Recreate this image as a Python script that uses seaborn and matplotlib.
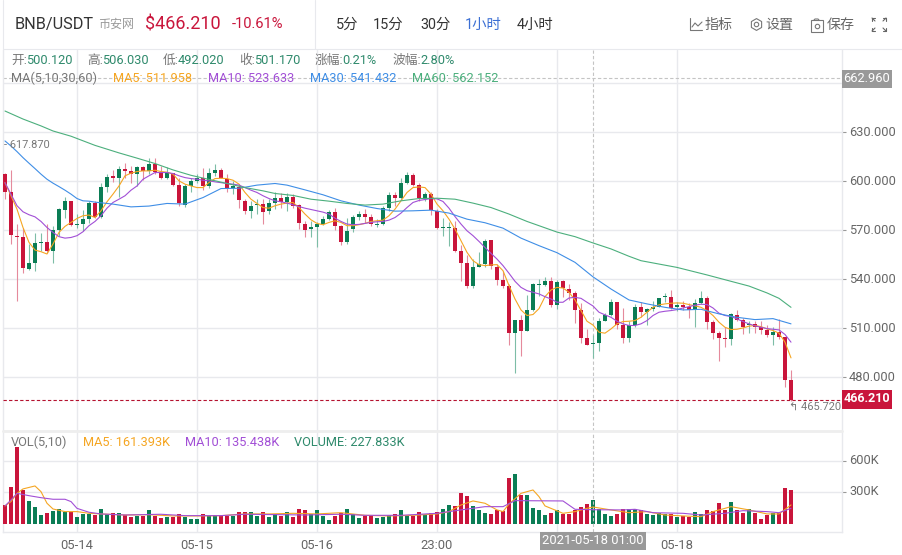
import matplotlib
matplotlib.use('Agg')
import matplotlib.pyplot as plt
from matplotlib.patches import Rectangle
from matplotlib.transforms import ScaledTranslation
import pandas as pd
import seaborn as sns

# candles, one per hour
opens = [604.2, 593, 566.6, 565.5, 546.4, 550.1, 562.3, 562.9, 557.4, 570.2,
         582.4, 587.5, 573.3, 573.9, 576.9, 586.7, 578.1, 596.4, 602.7, 601.9,
         607.4, 606.2, 604.6, 608.6, 606.2, 610.7, 605.8, 602.1, 605.2, 597.7,
         585.5, 597, 600.1, 601.7, 597, 605, 606.8, 601.1, 595.6, 596.4,
         587.9, 581.4, 585.1, 585.9, 581.4, 586.7, 589.5, 586.9, 590.3, 585.3,
         573.7, 570.4, 572, 573.7, 576.9, 581, 572.7, 562.9, 570.6, 578.1,
         579.8, 578.1, 573.1, 573.7, 583.4, 591.6, 589.5, 598.9, 603.8, 597.5,
         589.5, 592, 581.8, 571, 571, 571.2, 557.4, 549.7, 536.1, 547.6,
         549.3, 563.9, 547.6, 539.5, 536.1, 507, 515.1, 508.6, 521.2, 536.3,
         536.7, 539.1, 524.5, 538.7, 534, 531.4, 521.4, 504.1, 500.12, 500.9,
         514.7, 518.4, 525.9, 511.7, 504.1, 511.7, 523.2, 519.8, 521.8, 523.2,
         528.9, 529.3, 523.2, 524.5, 523.2, 521.2, 525.7, 528.5, 513.7, 507,
         503.7, 503.3, 518.4, 515.1, 511.7, 512.7, 511, 509.2, 505.8, 507.6, 504.9, 478.1]
highs = [605.2, 606.8, 573.7, 571.2, 561.5, 568, 568.4, 573.7, 572.7, 583.8,
         590.3, 587.9, 579.8, 582.2, 587.9, 587.9, 598.5, 604.2, 606.6, 609.3,
         611.1, 609.3, 609.3, 609.3, 613.9, 613.9, 609.3, 608.6, 605.2, 602.1,
         598.1, 601.7, 604.2, 607.8, 607.8, 610.7, 607.8, 604.2, 600.1, 598.1,
         588.9, 587.9, 588.9, 588.9, 588.9, 593, 592.4, 592.4, 592, 585.9,
         575.7, 575.3, 574.7, 578.6, 582.2, 583.4, 573.3, 577.3, 579.4, 581.4,
         582.8, 579.8, 576.7, 584.9, 593, 593, 601.7, 605.4, 604.8, 599.1,
         593.6, 593, 582.8, 577.7, 574.7, 575.3, 561.1, 555, 552.3, 556.8,
         564.5, 563.9, 549.3, 545.2, 537.1, 515.1, 518.4, 530.6, 537.5, 540.1,
         541.1, 541.5, 539.5, 539.5, 537.1, 532.6, 525.3, 509.6, 506.03, 516.3,
         519.2, 527.9, 525.9, 522.4, 514.7, 524.9, 525.9, 522.4, 526.5, 528.5,
         531.4, 533.4, 525.9, 526.9, 525.3, 527.9, 533, 530, 515.1, 508.6,
         510.6, 519.2, 521.2, 516.3, 514.7, 514.3, 514.3, 511.7, 511, 515.7, 504.9, 484.2]
lows = [588.9, 561.5, 526.5, 543.6, 545.6, 545.2, 557, 555.8, 549.7, 566.6,
        577.7, 572.7, 571.2, 569.6, 574.1, 577.3, 577.3, 593, 599.7, 590.3,
        602.1, 599.1, 597, 600.5, 604.6, 604.2, 601.5, 601.5, 597, 584.9,
        584.2, 593.6, 598.5, 594.4, 595.6, 603.2, 601.7, 593.6, 592, 583.4,
        579.8, 577.3, 579.8, 573.7, 579.8, 582.8, 583.8, 581.4, 583.4, 570.6,
        565.9, 565.5, 559.4, 572.9, 576.1, 570.2, 561.1, 561.5, 568.6, 576.1,
        574.1, 572.7, 571.6, 572.9, 581.8, 584.9, 588.3, 598.1, 596.8, 587.9,
        587.9, 579.4, 570.6, 566.6, 560.5, 556.8, 538.7, 534.6, 534.6, 547.6,
        547.2, 546.2, 536.7, 534.6, 499.5, 482.6, 492.8, 508.6, 520.4, 530,
        536, 523.2, 521.8, 528.9, 527.3, 513.1, 500.9, 499.5, 492.02, 496.4,
        514.3, 517.8, 509.6, 500.9, 501.5, 511, 516.7, 511.7, 520.8, 522.8,
        525.9, 521.8, 520.4, 521.2, 516.3, 510.6, 524.9, 509.6, 503.5, 489.9,
        498.8, 499.5, 514.3, 506.2, 507, 507, 506.2, 504.9, 500, 503.5, 474, 465.72]
closes = [593, 567.2, 565.5, 546.6, 550.1, 562.3, 562.9, 557, 570.2, 582.6,
          587.5, 573.3, 573.9, 576.9, 586.7, 578.1, 596.4, 602.7, 602.1, 607.4,
          606.4, 604.6, 608.6, 606.2, 610.7, 605.8, 602.1, 605.4, 597.7, 586.3,
          597, 600.1, 601.7, 597, 605, 606.8, 602.1, 595.6, 597, 588.3,
          581.4, 584.9, 585.9, 581.2, 586.5, 589.5, 586.9, 590.3, 584.9, 574.1,
          570.2, 572, 573.7, 576.9, 581, 572.7, 562.9, 569.6, 578.1, 579.8,
          578.1, 573.7, 573.5, 583.4, 591.6, 589.5, 598.9, 603.8, 597.5, 589.5,
          592, 582.2, 571.2, 571.4, 571.4, 557.4, 549.7, 536.1, 547.6, 549.3,
          563.5, 548.3, 539.5, 536.1, 507, 515.1, 508.6, 521.2, 537.1, 536.7,
          539.1, 524.5, 538.5, 534.6, 531.4, 521.4, 504.1, 499.5, 501.17, 514.7,
          518.4, 525.9, 511.7, 504.1, 511.7, 523.2, 519.8, 521.8, 523.2, 528.5,
          529.3, 522.4, 524.5, 523.2, 521.2, 525.7, 528.5, 513.7, 507, 504.1,
          503.3, 518.8, 515.1, 510.6, 512.7, 510.6, 509.2, 505.6, 507.6, 504.5, 478.1, 466.21]
volumes = [180, 354, 733, 322, 221, 164, 85, 107, 123, 142,
           117, 117, 69, 95, 95, 85, 142, 95, 101, 101,
           85, 69, 76, 76, 133, 79, 60, 63, 69, 95,
           63, 50, 50, 95, 76, 85, 85, 76, 76, 114,
           114, 114, 76, 114, 69, 95, 79, 114, 69, 142,
           133, 95, 133, 76, 38, 76, 101, 142, 95, 57,
           76, 76, 57, 63, 85, 95, 133, 85, 79, 114,
           85, 107, 114, 142, 180, 171, 297, 265, 171, 133,
           101, 95, 133, 123, 439, 474, 275, 275, 152, 133,
           85, 101, 133, 95, 95, 133, 158, 189, 227, 139,
           95, 76, 95, 139, 139, 139, 133, 95, 85, 107,
           95, 95, 69, 76, 69, 114, 95, 133, 123, 199,
           133, 208, 133, 107, 139, 107, 50, 85, 101, 107, 341, 322]

# moving averages as they appear on the chart
ma5 = [599, 591, 582.8, 571.6, 562.5, 557.8, 556.8, 555.4, 561.5, 568.6,
       572.3, 574.7, 577.1, 578.8, 579.2, 577.7, 581.8, 587.3, 592, 597,
       603.2, 604.8, 605.8, 606.2, 606.2, 606.6, 605.8, 605.4, 604.2, 600.1,
       598.1, 597, 596, 596, 599.1, 601.5, 601.7, 601.5, 600.5, 598.1,
       593, 588.9, 586.3, 583.8, 583.4, 584.9, 585.9, 586.5, 586.9, 583.8,
       579.8, 576.3, 574.1, 573.3, 574.7, 575.7, 574.7, 572.7, 572.7, 573.3,
       574.1, 575.3, 575.7, 576.1, 578.8, 582.8, 587.9, 593, 596, 596.4,
       596, 592, 585.9, 581.8, 576.7, 570.6, 563.5, 556.4, 551.3, 548.9,
       548.3, 548.7, 548.9, 545.2, 536.1, 527.9, 521.2, 517.8, 518.4, 522,
       529.3, 533.4, 535, 534.6, 532, 527.3, 520.8, 514.3, 511.96, 507.6,
       507, 509.6, 512.7, 514.1, 514.3, 514.7, 516.7, 519.8, 522.8, 524.3,
       524.9, 525.3, 525.5, 525.3, 524.5, 523.7, 522.8, 520.8, 517.8, 513.7,
       510.6, 509.2, 509.4, 510.2, 511.3, 511.7, 511, 509.6, 508.6, 507, 501.5, 491.9]
ma10 = [599, 592, 584.9, 581.2, 579.4, 578.1, 575.3, 571.6, 568.6, 566,
        565.1, 565.5, 566.6, 569, 572.7, 575.3, 578.8, 583.4, 586.9, 588.9,
        591, 594.4, 597, 601.1, 603.2, 605.2, 605.2, 605.2, 604.6, 603.2,
        602.1, 601.5, 601.1, 600.5, 600.1, 599.5, 599, 598.5, 598.1, 597.5,
        596, 594.4, 593, 591, 589.3, 587.9, 587.3, 586.5, 585.5, 584.4,
        583.4, 582.6, 581.8, 581, 579.8, 577.3, 575.3, 573.7, 573.3, 573.5,
        574.1, 574.7, 575.1, 575.3, 576.1, 577.7, 580.4, 583.8, 586.9, 588.1,
        588.7, 589.3, 589.1, 587.5, 583.4, 578.3, 573.7, 569.6, 566.6, 563.1,
        559.4, 555.8, 552.3, 548.3, 543.6, 538.7, 535, 533, 532, 531,
        529.3, 527.9, 525.9, 525.9, 528.5, 528.9, 528.3, 525.9, 523.63, 519.8,
        518.2, 516.7, 514.3, 512.7, 511.7, 511.7, 512.7, 514.7, 517.8, 519.8,
        520.4, 520.8, 521.4, 522.4, 523.2, 524.1, 524.7, 524.5, 522.4, 519.2,
        517.8, 517.2, 515.7, 514.1, 512.7, 511.5, 510.6, 509.8, 509.4, 509, 506.2, 501.5]
ma30_idx = [0, 1, 2, 3, 4, 5, 6, 7, 8, 9, 10, 11, 12, 13, 14, 15, 18, 21, 24, 27, 30, 33, 36, 39, 42, 45,
            47, 50, 53, 56, 59, 62, 65, 68, 71, 74, 77, 80, 83, 86, 89,
            92, 95, 98, 101, 104, 107, 110, 113, 116, 119, 122, 125, 128, 131]
ma30 = [624.5, 621.4, 618, 614.3, 610.9, 607.6, 604.2, 601.1, 598.7, 596.6, 594.4, 592, 589.3, 587.9, 587.7, 587.1,
        585.9, 584.2, 584.7, 586.3, 585.9, 589.9, 595.4, 595.6, 597.5, 598.5,
        597.5, 594.6, 591.6, 587.9, 585.3, 583.2, 581.6, 581.8, 582.2, 580.4, 576.7, 574.5, 571.2, 565.1, 560.5,
        556.2, 550.3, 541.43, 534, 527.3, 524.9, 522.8, 521.2, 521.6, 518.8, 516.7, 515.3, 515.9, 512.7]
ma60_idx = [0, 3, 6, 8, 11, 15, 19, 22, 25, 28, 31, 34, 37, 40, 43, 45, 48, 51, 54, 57, 60, 63, 66, 69, 72, 75,
            78, 81, 84, 87, 89, 92, 95, 98, 101, 104, 106, 112, 117, 121, 124, 127, 129, 131]
ma60 = [642.8, 637.9, 633.7, 630.6, 627.4, 621.8, 617.2, 614, 610.7, 606.8, 603.5, 601, 598.5, 596, 594, 592.4,
        591.2, 588.9, 587.7, 586.3, 585.3, 585.9, 587.9, 589.3, 589.5, 588.9, 586.5, 583.8, 579.8, 575.3, 572.7,
        568.8, 566, 562.15, 558.5, 554, 551.3, 547.2, 542.6, 538.7, 535.8, 531.6, 528.3, 522.8]
vol_ma5_idx = [0, 1, 2, 3, 5, 6, 7, 8, 10, 12, 14, 16, 20, 24, 28, 32, 36, 40, 44, 48, 52, 56, 60, 64, 68, 72,
               74, 76, 78, 80, 82, 83, 84, 86, 88, 89, 90, 93, 95, 97, 98, 101, 104, 107, 110, 113, 116, 118,
               121, 124, 127, 129, 131]
vol_ma5 = [171, 212, 290, 332, 360, 306, 196, 142, 117, 117, 101, 95, 85, 88, 76, 76, 79, 95, 95, 101, 95, 107, 82, 76, 82, 95,
           117, 180, 218, 196, 133, 117, 189, 290, 322, 259, 171, 101, 117, 148, 161, 133, 107, 117, 85, 76, 69, 117,
           164, 133, 95, 95, 180]
vol_ma10_idx = [0, 1, 2, 4, 6, 8, 10, 11, 12, 14, 16, 20, 26, 30, 36, 40, 46, 50, 56, 60, 66, 72,
                74, 76, 80, 83, 85, 93, 95, 98, 103, 105, 108, 113, 116, 120, 123, 127, 129, 131]
vol_ma10 = [171, 227, 290, 268, 249, 234, 234, 212, 148, 111, 95, 85, 92, 79, 79, 92, 88, 85, 92, 82, 82, 101,
            117, 133, 164, 164, 221, 218, 139, 135, 133, 139, 107, 101, 85, 101, 126, 117, 107, 148]

# axis ticks
price_ticks = [480, 510, 540, 570, 600, 630, 660]
price_labels = ['480.000', '510.000', '540.000', '570.000', '600.000', '630.000', '']
vol_ticks = [300, 600]
vol_labels = ['300K', '600K']
time_ticks = [12, 32, 52, 72, 92, 112]
time_labels = ['05-14', '05-15', '05-16', '23:00', '', '05-18']

cross_idx = 98
cross_price = 662.96
last_price = 466.21
low_price = 465.72
high_price = 617.87

RED = '#c9153b'
GREEN = '#0b7d55'
RED_WICK = '#e58a9c'
GREEN_WICK = '#7dbda6'
C_MA5 = '#f5a623'
C_MA10 = '#a24fd6'
C_MA30 = '#3f8ee6'
C_MA60 = '#4caf7d'
C_INFO = '#2f8a6c'
C_TEXT = '#666666'
C_GRID = '#e8e9ed'


def px(size):
    # font size given in pixels of the 100 dpi figure
    return size * 0.72


def nudge_up(ax, pixels):
    # tick labels sit a little above their grid line in the original
    shift = ScaledTranslation(0, pixels / 100, ax.figure.dpi_scale_trans)
    for label in ax.get_yticklabels():
        label.set_transform(label.get_transform() + shift)


def draw_candles(ax):
    for i in range(len(opens)):
        down = closes[i] < opens[i]
        ax.vlines(i, lows[i], highs[i], color=RED_WICK if down else GREEN_WICK, linewidth=0.8, zorder=3)
        top = max(opens[i], closes[i])
        bottom = min(opens[i], closes[i])
        ax.bar(i, max(top - bottom, 0.7), bottom=bottom, width=0.68, color=RED if down else GREEN,
               linewidth=0, zorder=4)


def draw_price(ax):
    draw_candles(ax)
    sns.lineplot(x=range(len(ma5)), y=ma5, ax=ax, color=C_MA5, linewidth=0.8, zorder=5)
    sns.lineplot(x=range(len(ma10)), y=ma10, ax=ax, color=C_MA10, linewidth=0.8, zorder=5)
    sns.lineplot(x=ma30_idx, y=ma30, ax=ax, color=C_MA30, linewidth=0.8, zorder=5)
    sns.lineplot(x=ma60_idx, y=ma60, ax=ax, color=C_MA60, linewidth=0.8, zorder=5)
    ax.axhline(last_price, color='#b5122f', linewidth=0.8, linestyle=(0, (3, 2)), zorder=6)
    ax.axhline(cross_price, color='#c4c4c4', linewidth=0.8, linestyle=(0, (3, 2)), zorder=2)
    ax.axvline(cross_idx, color='#c4c4c4', linewidth=0.8, linestyle=(0, (3, 2)), zorder=2)
    ax.set_xlim(-0.333, 139.5)
    ax.set_ylim(447.2, 680.1)
    ax.set_yticks(price_ticks, price_labels)
    ax.set_xticks(time_ticks, [''] * len(time_ticks))
    ax.tick_params(axis='x', length=0)
    ax.yaxis.tick_right()
    ax.tick_params(axis='y', length=3, width=0.8, color='#999999', labelcolor=C_TEXT,
                   labelsize=px(12.7), pad=2)
    ax.grid(True, color=C_GRID, linewidth=1)
    ax.set_axisbelow(True)
    ax.set(xlabel='', ylabel='')
    nudge_up(ax, 1)


def draw_volume(ax):
    frame = pd.DataFrame({'idx': range(len(volumes)), 'vol': volumes,
                          'side': ['down' if c < o else 'up' for o, c in zip(opens, closes)]})
    sns.barplot(data=frame, x='idx', y='vol', hue='side', palette={'down': RED, 'up': GREEN},
                native_scale=True, dodge=False, width=0.68, legend=False, linewidth=0, saturation=1,
                ax=ax, zorder=3)
    sns.lineplot(x=vol_ma5_idx, y=vol_ma5, ax=ax, color=C_MA5, linewidth=0.8, zorder=5)
    sns.lineplot(x=vol_ma10_idx, y=vol_ma10, ax=ax, color=C_MA10, linewidth=0.8, zorder=5)
    ax.axvline(cross_idx, color='#c4c4c4', linewidth=0.8, linestyle=(0, (3, 2)), zorder=4)
    ax.set_xlim(-0.333, 139.5)
    ax.set_ylim(-76, 871)
    ax.set_yticks(vol_ticks, vol_labels)
    ax.set_xticks(time_ticks, time_labels)
    ax.yaxis.tick_right()
    ax.tick_params(axis='y', length=3, width=0.8, color='#999999', labelcolor=C_TEXT,
                   labelsize=px(12.7), pad=2)
    ax.tick_params(axis='x', length=3, width=0.8, color='#999999', labelcolor=C_TEXT,
                   labelsize=px(13), pad=2)
    ax.grid(True, color=C_GRID, linewidth=1)
    ax.set_axisbelow(True)
    ax.set(xlabel='', ylabel='')
    nudge_up(ax, 2)


def put(over, x, y, text, color=C_TEXT, size=12.7, **kwargs):
    over.text(x, y, text, color=color, fontsize=px(size), va='center', **kwargs)


def draw_header(over):
    # top bar
    over.plot([3, 902], [49, 49], color=C_GRID, linewidth=0.8)
    over.plot([3, 3], [0, 49], color=C_GRID, linewidth=0.8)
    over.plot([315, 315], [0, 49], color=C_GRID, linewidth=0.8)
    over.plot([3, 842], [431, 431], color='#eeeeee', linewidth=2)
    put(over, 15, 24.5, 'BNB/USDT', '#333333', 16.2)
    put(over, 98, 24.5, '币安网', '#999999', 12)
    put(over, 145, 24.5, '$466.210', RED, 18)
    put(over, 232, 24.5, '-10.61%', RED, 14.6)
    for x, label, color in [(336, '5分', '#333333'), (373, '15分', '#333333'), (420, '30分', '#333333'),
                            (465, '1小时', '#3b6fd4'), (517, '4小时', '#333333')]:
        put(over, x, 24.5, label, color, 14.4)
    for x, label in [(705, '指标'), (765, '设置'), (827, '保存')]:
        put(over, x, 24.5, label, '#666666', 14)

    # toolbar icons
    over.plot([690, 690, 702], [18, 30, 30], color='#777777', linewidth=0.8)
    over.plot([692, 695, 698, 702], [27, 23, 26, 22], color='#777777', linewidth=0.8)
    over.plot([755.5], [24], marker='h', markersize=8.5, markerfacecolor='none',
              markeredgecolor='#777777', markeredgewidth=0.8)
    over.plot([755.5], [24], marker='o', markersize=3.2, markerfacecolor='none',
              markeredgecolor='#777777', markeredgewidth=0.8)
    over.plot([816.5], [25.5], marker='s', markersize=8, markerfacecolor='none',
              markeredgecolor='#777777', markeredgewidth=0.8)
    over.plot([816.5], [25.5], marker='o', markersize=3.2, markerfacecolor='none',
              markeredgecolor='#777777', markeredgewidth=0.8)
    over.plot([814, 815, 818, 819], [20, 19, 19, 20], color='#777777', linewidth=0.8)
    for x0, y0, dx, dy in [(872, 18, 3, 3), (886, 18, -3, 3), (872, 31, 3, -3), (886, 31, -3, -3)]:
        over.plot([x0, x0 + dx], [y0, y0], color='#666666', linewidth=0.8)
        over.plot([x0, x0], [y0, y0 + dy], color='#666666', linewidth=0.8)
        over.plot([x0, x0 + dx], [y0, y0 + dy], color='#666666', linewidth=0.8)

    # open/high/low/close row
    for x, label in [(11, '开:'), (87, '高:'), (163, '低:'), (239, '收:'), (315, '涨幅:'), (393, '波幅:')]:
        put(over, x, 60.5, label, '#777777')
    for x, label in [(26, '500.120'), (102, '506.030'), (178, '492.020'), (254, '501.170'),
                     (342, '0.21%'), (420, '2.80%')]:
        put(over, x, 60.5, label, C_INFO)

    # moving average row
    put(over, 11, 78.5, 'MA(5,10,30,60)', '#777777')
    put(over, 113, 78.5, 'MA5: 511.958', C_MA5)
    put(over, 208, 78.5, 'MA10: 523.633', C_MA10)
    put(over, 310, 78.5, 'MA30: 541.432', C_MA30)
    put(over, 412, 78.5, 'MA60: 562.152', C_MA60)

    # volume row
    put(over, 11, 442.5, 'VOL(5,10)', '#777777')
    put(over, 83, 442.5, 'MA5: 161.393K', C_MA5)
    put(over, 185, 442.5, 'MA10: 135.438K', C_MA10)
    put(over, 294, 442.5, 'VOLUME: 227.833K', C_INFO)

    # crosshair and last price tags
    over.add_patch(Rectangle((842, 70), 50, 18, color='#999999', linewidth=0))
    put(over, 867, 78.5, f'{cross_price:.3f}', 'white', 12.7, ha='center')
    over.add_patch(Rectangle((842, 390), 50, 19, color=RED, linewidth=0))
    put(over, 867, 399, f'{last_price:.3f}', 'white', 12.5, ha='center', fontweight='bold')
    over.add_patch(Rectangle((540, 532), 106, 18, color='#999999', linewidth=0))
    put(over, 593, 541, '2021-05-18 01:00', 'white', 13, ha='center')

    # extreme markers
    put(over, 4, 145, f'- {high_price:.3f}', '#777777', 11)
    put(over, 789, 407, f'↰ {low_price:.3f}', '#777777', 11)


def main():
    sns.set_theme(style='white')
    plt.rcParams['font.family'] = ['Roboto', 'Noto Sans CJK SC', 'DejaVu Sans']

    width, height = 902, 555
    fig = plt.figure(figsize=(width / 100, height / 100), dpi=100)
    ax_price = fig.add_axes([3 / width, 1 - 431 / height, 839 / width, 381 / height])
    ax_vol = fig.add_axes([3 / width, 1 - 532 / height, 839 / width, 100 / height])
    over = fig.add_axes([0, 0, 1, 1], zorder=10)
    over.set_xlim(0, width)
    over.set_ylim(height, 0)
    over.axis('off')
    over.patch.set_alpha(0)

    draw_price(ax_price)
    draw_volume(ax_vol)
    for ax in [ax_price, ax_vol]:
        for side, spine in ax.spines.items():
            spine.set_color(C_GRID)
            spine.set_linewidth(1)
        ax.spines['top'].set_visible(False)
    draw_header(over)

    fig.savefig('out.png', dpi=100)


if __name__ == '__main__':
    main()
